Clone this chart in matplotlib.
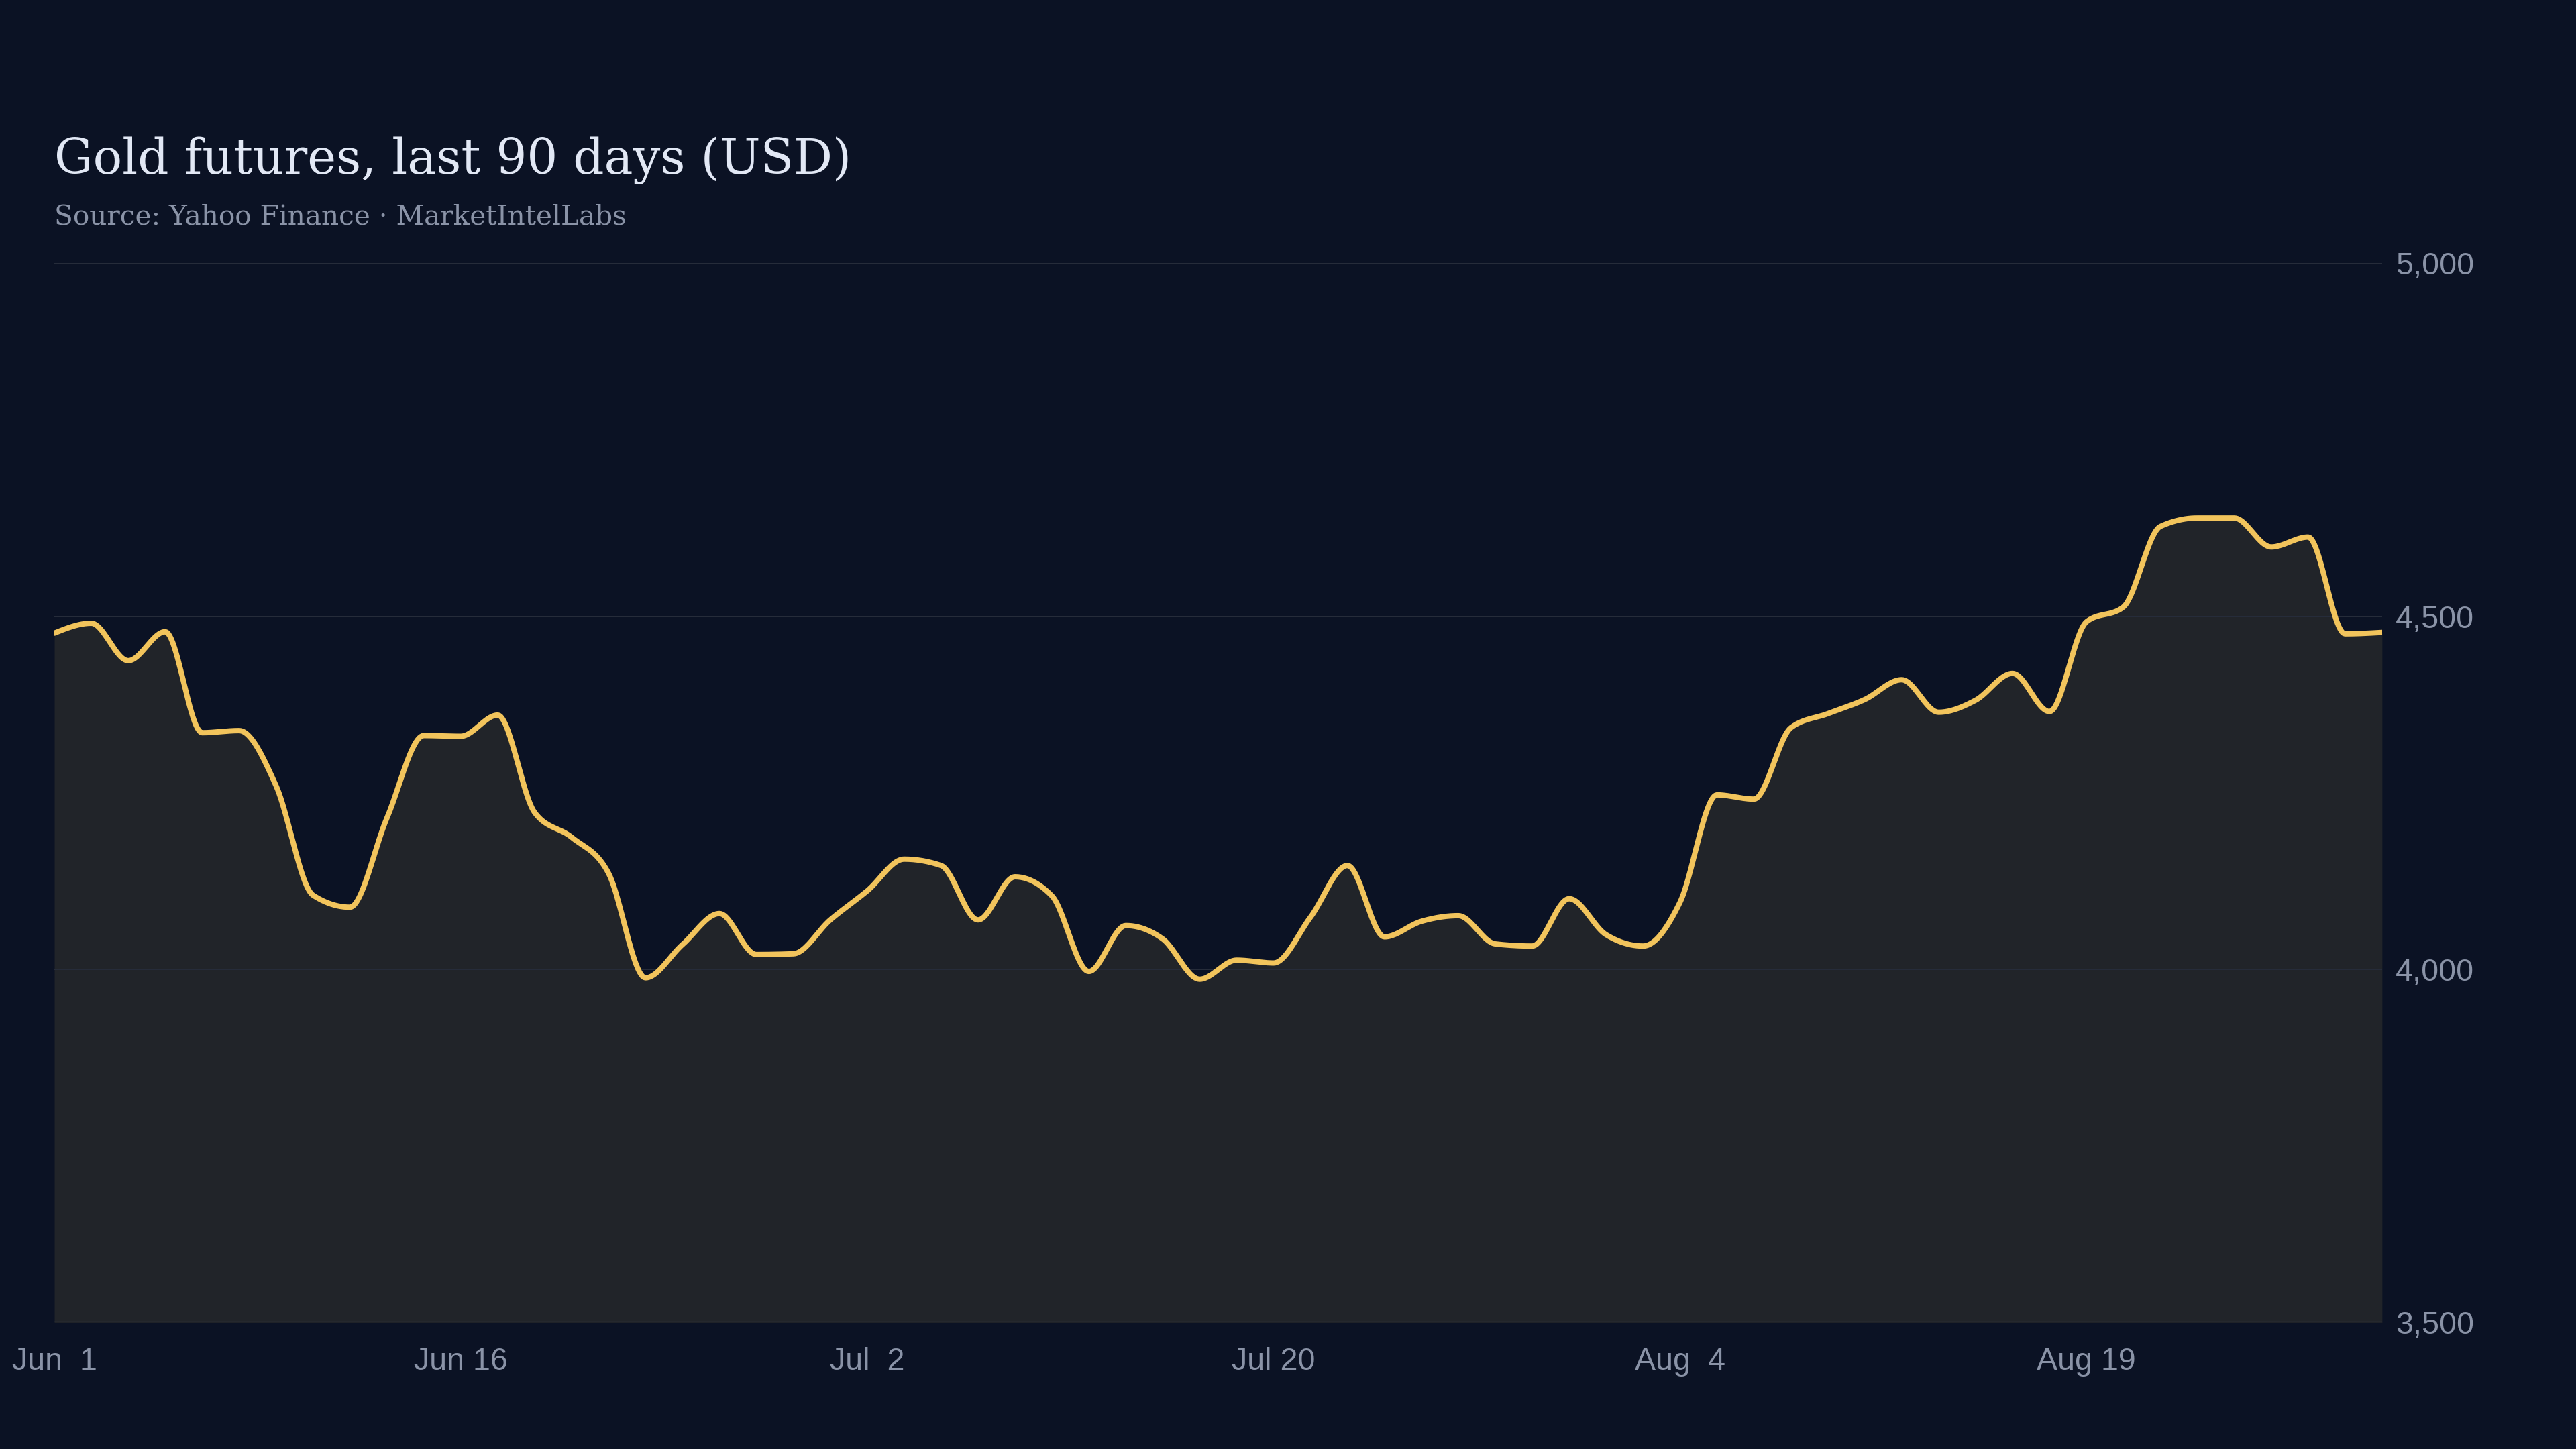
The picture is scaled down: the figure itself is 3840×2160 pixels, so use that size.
"""
Gold futures, last 90 days: smooth area chart on a dark background.
"""
import numpy as np
import matplotlib
matplotlib.use("Agg")
import matplotlib.pyplot as plt

# Closing prices (USD), one per trading session
prices = [
    4476, 4490, 4437, 4478, 4335, 4338, 4260, 4105, 4088, 4214,
    4331, 4330, 4360, 4222, 4187, 4136, 3988, 4035, 4079, 4021,
    4022, 4070, 4111, 4156, 4147, 4070, 4131, 4104, 3997, 4062,
    4043, 3986, 4013, 4009, 4074, 4147, 4046, 4068, 4076, 4036,
    4033, 4100, 4049, 4033, 4095, 4247, 4241, 4342, 4362, 4382,
    4410, 4364, 4381, 4419, 4365, 4492, 4513, 4627, 4639, 4639,
    4598, 4612, 4475, 4477,
]
tick_index = [0, 11, 22, 33, 44, 55]
tick_labels = ["Jun  1", "Jun 16", "Jul  2", "Jul 20", "Aug  4", "Aug 19"]
y_ticks = [3500, 4000, 4500, 5000]

BG = "#0b1224"
FILL = "#212429"
LINE = "#f2c45c"
GRID = "#262c3a"
MUTED = "#8a93a7"


def monotone_curve(x, y, per_seg=24):
    """Monotone cubic (like d3.curveMonotoneX) sampled for drawing."""
    x = np.asarray(x, float)
    y = np.asarray(y, float)
    h = np.diff(x)
    s = np.diff(y) / h
    t = np.zeros_like(y)
    for i in range(1, len(y) - 1):
        p = (s[i - 1] * h[i] + s[i] * h[i - 1]) / (h[i - 1] + h[i])
        t[i] = (np.sign(s[i - 1]) + np.sign(s[i])) * min(
            abs(s[i - 1]), abs(s[i]), 0.5 * abs(p)
        )
    t[0] = (3 * s[0] - t[1]) / 2
    t[-1] = (3 * s[-1] - t[-2]) / 2
    xs, ys = [], []
    for i in range(len(h)):
        u = np.linspace(0, 1, per_seg, endpoint=False)
        h00 = 2 * u**3 - 3 * u**2 + 1
        h10 = u**3 - 2 * u**2 + u
        h01 = -2 * u**3 + 3 * u**2
        h11 = u**3 - u**2
        xs.append(x[i] + u * h[i])
        ys.append(h00 * y[i] + h10 * h[i] * t[i] + h01 * y[i + 1] + h11 * h[i] * t[i + 1])
    xs.append([x[-1]])
    ys.append([y[-1]])
    return np.concatenate(xs), np.concatenate(ys)


x = np.arange(len(prices))
cx, cy = monotone_curve(x, prices)

fig = plt.figure(figsize=(16, 9), dpi=240, facecolor=BG)
ax = fig.add_axes([0.0211, 0.0873, 0.9036, 0.7312])
ax.set_facecolor(BG)

ax.fill_between(cx, 3500, cy, color=FILL, linewidth=0, zorder=1)
for v in y_ticks[1:]:
    ax.axhline(v, color=GRID, linewidth=0.6, zorder=2)
ax.axhline(3500, color="#3a3f4b", linewidth=1.0, zorder=2)
ax.plot(cx, cy, color=LINE, linewidth=2.4, solid_capstyle="round", zorder=3)

ax.set_xlim(0, len(prices) - 1)
ax.set_ylim(3500, 5000)
for side in ax.spines.values():
    side.set_visible(False)

ax.set_xticks(tick_index)
ax.set_xticklabels(tick_labels)
ax.set_yticks(y_ticks)
ax.set_yticklabels([f"{v:,}" for v in y_ticks])
ax.yaxis.tick_right()
ax.tick_params(axis="both", length=0, labelcolor=MUTED, labelsize=14)
ax.tick_params(axis="x", pad=11)
ax.tick_params(axis="y", pad=6)
for lbl in ax.get_xticklabels() + ax.get_yticklabels():
    lbl.set_fontfamily("Liberation Sans")

fig.text(0.0211, 0.880, "Gold futures, last 90 days (USD)", color="#e2e8f5",
         fontsize=21.7, family="DejaVu Serif", va="baseline", ha="left")
fig.text(0.0211, 0.845, "Source: Yahoo Finance \u00b7 MarketIntelLabs", color=MUTED,
         fontsize=12.2, family="DejaVu Serif", va="baseline", ha="left")

fig.savefig("out.png", dpi=240, facecolor=BG)
